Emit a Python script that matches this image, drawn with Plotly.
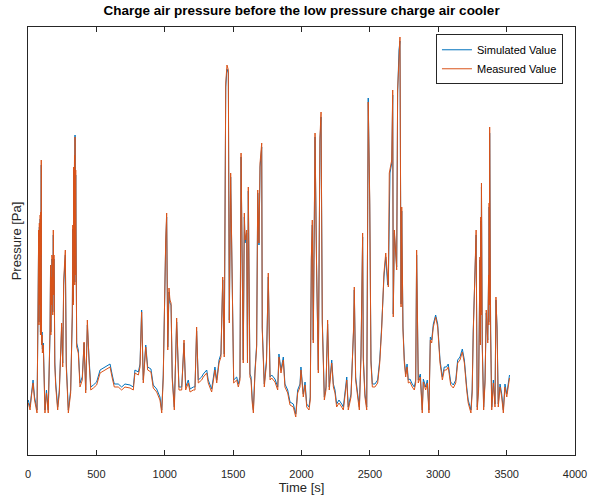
import plotly.graph_objects as go

# Time axis [s]
time_s = [
    2, 15, 26, 37, 48, 66, 73, 78, 80, 83,
    86, 89, 91, 93, 95, 97, 99, 101, 103, 105,
    112, 124, 135, 148,
    161, 165, 167, 170, 172, 175, 178, 181, 185, 188,
    190, 192, 196, 203, 217,
    229, 246, 254, 261, 273, 280, 295, 312,
    324, 328, 331, 334, 337, 340, 342, 344, 346, 349,
    352, 356, 368, 380, 397, 410, 422,
    434, 446, 459, 478, 502, 527, 563, 600, 616, 631,
    660, 685, 709, 746, 770, 782, 807, 819, 831, 843,
    861, 875, 899, 916, 941, 965, 978, 989, 1007, 1014,
    1022, 1031, 1038, 1046, 1055, 1070, 1087, 1104, 1124, 1141,
    1153, 1172, 1185, 1209, 1221, 1233, 1245, 1270, 1282, 1307,
    1318, 1343, 1367, 1380, 1397, 1411, 1424, 1435, 1446, 1455,
    1465, 1472, 1482, 1494, 1504, 1526, 1538, 1550, 1558, 1574,
    1582, 1587, 1599, 1605, 1611, 1623, 1631, 1640, 1648, 1660,
    1672, 1680, 1689, 1697, 1709, 1713, 1728, 1744, 1757, 1770,
    1782, 1806, 1826, 1835, 1850, 1867, 1879, 1899, 1916, 1940,
    1958, 1972, 1989, 1996, 2013, 2026, 2038, 2055, 2064, 2072,
    2079, 2086, 2099, 2110, 2123, 2135, 2143, 2152, 2167, 2179,
    2191, 2203, 2221, 2233, 2245, 2257, 2274, 2294, 2306, 2331,
    2342, 2362, 2374, 2381, 2386, 2396, 2411, 2423, 2435, 2440,
    2447, 2452, 2464, 2477, 2488, 2499, 2508, 2518, 2537, 2557,
    2572, 2586, 2603, 2616, 2630, 2635, 2642, 2647, 2660, 2667,
    2671, 2679, 2696, 2703, 2713, 2720, 2728, 2733, 2742, 2752,
    2762, 2772, 2781, 2793, 2810, 2825, 2835, 2842, 2854, 2869,
    2883, 2891, 2908, 2920, 2932, 2942, 2952, 2964, 2981, 2996,
    3013, 3030, 3044, 3060, 3073, 3091, 3110, 3128, 3142, 3159,
    3176, 3191, 3208, 3219, 3239, 3248, 3256, 3265, 3273, 3277,
    3285, 3295, 3305, 3308, 3311, 3314, 3316, 3318, 3320, 3322,
    3332, 3342, 3351, 3362,
    3368, 3370, 3372, 3374, 3376, 3379, 3381, 3383, 3391, 3403,
    3415, 3422, 3430, 3439, 3452,
    3464, 3476, 3488, 3501, 3512, 3521,
]

# Measured pressure (arbitrary scale, axis has no numeric labels)
measured = [
    52, 45, 60, 72, 55, 42, 142, 225, 130, 232,
    150, 240, 120, 243, 200, 295, 110, 250, 120, 102,
    110, 42, 62, 42,
    125, 190, 120, 178, 150, 200, 195, 140, 225, 160,
    200, 175, 90, 68, 45,
    62, 132, 88, 175, 205, 88, 42, 62,
    142, 230, 150, 288, 200, 300, 170, 318, 180, 285,
    150, 108, 102, 68, 75, 113, 62,
    135, 95, 65, 67, 70, 82, 85, 88, 77, 68,
    68, 65, 68, 67, 65, 82, 80, 88, 143, 72,
    108, 85, 83, 67, 63, 55, 42, 77, 215, 242,
    105, 167, 155, 152, 75, 45, 137, 65, 65, 115,
    65, 72, 63, 65, 65, 128, 72, 75, 78, 82,
    72, 63, 85, 72, 92, 98, 178, 98, 372, 390,
    385, 132, 282, 132, 72, 75, 68, 75, 302, 92,
    242, 215, 225, 92, 268, 78, 75, 52, 42, 82,
    108, 265, 212, 292, 312, 125, 68, 92, 182, 75,
    77, 73, 65, 98, 82, 95, 68, 62, 50, 48,
    38, 62, 68, 85, 58, 70, 48, 45, 55, 198,
    235, 112, 322, 192, 82, 318, 343, 132, 55, 65,
    135, 65, 92, 68, 62, 48, 52, 48, 45, 75,
    45, 58, 98, 128, 168, 75, 58, 45, 98, 182,
    222, 95, 58, 45, 353, 255, 92, 68, 68, 72,
    92, 125, 182, 202, 172, 168, 282, 285, 295, 365,
    138, 225, 185, 365, 408, 418, 148, 248, 125, 92,
    78, 88, 72, 73, 68, 65, 72, 205, 72, 78,
    42, 73, 65, 72, 42, 115, 112, 128, 138, 128,
    92, 75, 85, 85, 88, 70, 67, 72, 92, 95,
    103, 92, 65, 52, 42, 62, 122, 165, 195, 225,
    45, 65, 198, 110, 238, 140, 272, 130, 250, 108,
    45, 72, 145, 112,
    180, 130, 252, 150, 328, 160, 250, 122, 45, 72,
    48, 158, 125, 48, 68,
    58, 42, 68, 58, 68, 77,
]

# Simulated pressure
simulated = [
    55, 48, 62, 75, 58, 45, 138, 222, 133, 228,
    153, 236, 123, 240, 198, 290, 113, 246, 123, 106,
    112, 45, 65, 45,
    122, 186, 123, 175, 153, 196, 190, 143, 220, 163,
    196, 172, 93, 72, 48,
    65, 128, 92, 170, 200, 92, 45, 65,
    138, 226, 153, 285, 203, 296, 173, 320, 183, 280,
    153, 112, 105, 72, 78, 112, 65,
    130, 98, 68, 70, 73, 85, 88, 91, 80, 71,
    71, 68, 71, 70, 68, 85, 83, 91, 145, 75,
    110, 88, 86, 70, 66, 58, 45, 80, 212, 238,
    108, 163, 152, 150, 78, 48, 133, 68, 68, 112,
    68, 75, 66, 68, 68, 124, 75, 78, 81, 85,
    75, 66, 88, 75, 95, 101, 175, 101, 368, 386,
    382, 135, 278, 135, 75, 78, 71, 78, 298, 95,
    238, 212, 222, 95, 264, 81, 78, 55, 45, 85,
    110, 262, 210, 288, 308, 128, 71, 95, 178, 78,
    80, 76, 68, 101, 85, 98, 71, 65, 53, 51,
    41, 65, 71, 88, 61, 73, 51, 48, 58, 195,
    230, 115, 318, 190, 85, 314, 338, 135, 58, 68,
    131, 68, 95, 71, 65, 51, 55, 51, 48, 78,
    48, 61, 101, 125, 165, 78, 61, 48, 101, 178,
    218, 98, 61, 48, 357, 250, 95, 71, 71, 75,
    95, 128, 178, 198, 170, 171, 278, 282, 292, 360,
    141, 222, 188, 362, 405, 414, 151, 244, 128, 95,
    81, 91, 75, 76, 71, 68, 75, 200, 75, 81,
    45, 76, 68, 75, 45, 118, 115, 131, 140, 131,
    95, 78, 88, 88, 91, 73, 70, 75, 95, 98,
    106, 95, 68, 55, 45, 65, 125, 162, 192, 220,
    48, 68, 195, 113, 234, 143, 268, 133, 246, 111,
    48, 75, 142, 115,
    176, 133, 248, 153, 322, 163, 246, 125, 48, 75,
    51, 155, 128, 51, 71,
    61, 45, 71, 61, 71, 80,
]

x_ticks = [0, 500, 1000, 1500, 2000, 2500, 3000, 3500, 4000]

assert len(time_s) == len(measured) == len(simulated), (len(time_s), len(measured), len(simulated))

FONT = "Liberation Sans, Arial, Helvetica, sans-serif"
AX = "#262626"

fig = go.Figure()
fig.add_trace(go.Scatter(x=time_s, y=simulated, mode="lines", name="Simulated Value",
                         line=dict(color="#0072BD", width=1)))
fig.add_trace(go.Scatter(x=time_s, y=measured, mode="lines", name="Measured Value",
                         line=dict(color="#D95319", width=1)))

fig.update_layout(
    width=589, height=497,
    margin=dict(l=28, r=14, t=27, b=42, autoexpand=False),
    paper_bgcolor="white", plot_bgcolor="white",
    font=dict(family=FONT, size=11, color=AX),
    title=dict(text="<b>Charge air pressure before the low pressure charge air cooler</b>",
               x=0.512, xanchor="center", y=0.979, yanchor="middle",
               font=dict(family=FONT, size=13.5, color="black")),
    legend=dict(x=0.978, y=0.983, xanchor="right", yanchor="top",
                bordercolor=AX, borderwidth=1, bgcolor="white",
                font=dict(family=FONT, size=11, color="black"),
                tracegroupgap=0),
    showlegend=True,
)
fig.update_xaxes(range=[0, 4000], tickvals=x_ticks, ticktext=[str(v) for v in x_ticks],
                 ticks="inside", ticklen=5, tickcolor=AX, tickwidth=1,
                 ticklabelstandoff=9,
                 showline=True, linecolor=AX, linewidth=1, mirror="ticks",
                 showgrid=False, zeroline=False, automargin=False,
                 title=dict(text="Time [s]", font=dict(family=FONT, size=13, color=AX), standoff=0))
fig.update_yaxes(range=[0, 428], showticklabels=False, ticks="",
                 showline=True, linecolor=AX, linewidth=1, mirror=True,
                 showgrid=False, zeroline=False, automargin=False,
                 title=dict(text="Pressure [Pa]", font=dict(family=FONT, size=13, color=AX), standoff=2))

fig.write_html("out.html")
